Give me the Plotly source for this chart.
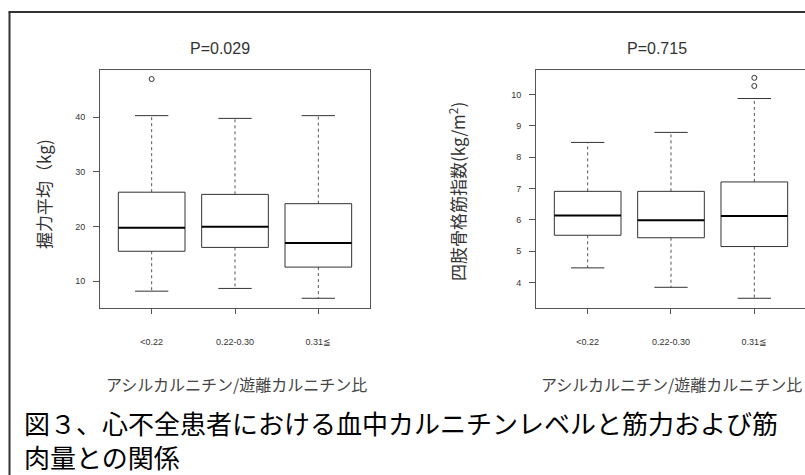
import plotly.graph_objects as go

# Ratio groups (acylcarnitine / free carnitine)
groups = ["<0.22", "0.22-0.30", "0.31≦"]

# Grip strength (kg): five-number summaries per group
grip_lower = [8.2, 8.7, 6.9]
grip_q1 = [15.5, 16.2, 12.6]
grip_median = [19.8, 20.0, 17.0]
grip_q3 = [26.3, 25.9, 24.2]
grip_upper = [40.3, 39.8, 40.3]
grip_outliers = [[47.0], [], []]
grip_ticks = [10, 20, 30, 40]

# Skeletal muscle index (kg/m2)
smi_lower = [4.47, 3.85, 3.50]
smi_q1 = [5.51, 5.43, 5.15]
smi_median = [6.14, 5.99, 6.12]
smi_q3 = [6.91, 6.91, 7.21]
smi_upper = [8.47, 8.79, 9.87]
smi_outliers = [[], [], [10.27, 10.53]]
smi_ticks = [4, 5, 6, 7, 8, 9, 10]

p_values = ["P=0.029", "P=0.715"]
x_title = "アシルカルニチン/遊離カルニチン比"
y_titles = ["握力平均（kg)", "四肢骨格筋指数(kg/m<sup>2</sup>)"]
caption = "図３、心不全患者における血中カルニチンレベルと筋力および筋<br>肉量との関係"

W, H = 805, 475
BOX_HALF = 0.4
CAP_HALF = 0.2
LATIN = "Liberation Sans, Arial, sans-serif"
CJK = "Noto Sans CJK JP, sans-serif"

fig = go.Figure()


def add_boxplot(lower, q1, med, q3, upper, outliers, xa, ya):
    bx, by, mx, my, wx, wy, cx, cy, ox, oy = ([] for _ in range(10))
    for i in range(len(groups)):
        c = i + 1
        bx += [c - BOX_HALF, c + BOX_HALF, c + BOX_HALF, c - BOX_HALF, c - BOX_HALF, None]
        by += [q1[i], q1[i], q3[i], q3[i], q1[i], None]
        mx += [c - BOX_HALF, c + BOX_HALF, None]
        my += [med[i], med[i], None]
        wx += [c, c, None, c, c, None]
        wy += [q3[i], upper[i], None, q1[i], lower[i], None]
        cx += [c - CAP_HALF, c + CAP_HALF, None, c - CAP_HALF, c + CAP_HALF, None]
        cy += [upper[i], upper[i], None, lower[i], lower[i], None]
        for v in outliers[i]:
            ox.append(c)
            oy.append(v)
    common = dict(xaxis=xa, yaxis=ya, hoverinfo="skip", showlegend=False)
    fig.add_trace(go.Scatter(x=wx, y=wy, mode="lines",
                             line=dict(color="#555", width=1, dash="3px,3px"), **common))
    fig.add_trace(go.Scatter(x=cx, y=cy, mode="lines",
                             line=dict(color="#333", width=1), **common))
    fig.add_trace(go.Scatter(x=bx, y=by, mode="lines",
                             line=dict(color="#333", width=1), **common))
    fig.add_trace(go.Scatter(x=mx, y=my, mode="lines",
                             line=dict(color="#000", width=2), **common))
    fig.add_trace(go.Scatter(x=ox, y=oy, mode="markers",
                             marker=dict(symbol="circle-open", size=5,
                                         color="#333", line=dict(width=1)), **common))


add_boxplot(grip_lower, grip_q1, grip_median, grip_q3, grip_upper, grip_outliers, "x", "y")
add_boxplot(smi_lower, smi_q1, smi_median, smi_q3, smi_upper, smi_outliers, "x2", "y2")

y_dom = [(H - 308) / H, (H - 70) / H]
tickfont = dict(family=LATIN, size=9, color="#333")
x_common = dict(tickvals=[1, 2, 3], ticktext=groups, ticks="outside", ticklen=5,
                tickcolor="#555", showgrid=False, zeroline=False, showline=True,
                linecolor="#555", linewidth=1, tickfont=tickfont,
                ticklabelstandoff=20)
y_common = dict(ticks="outside", ticklen=6, tickcolor="#555", showgrid=False,
                zeroline=False, showline=True, linecolor="#555", linewidth=1,
                tickfont=tickfont, ticklabelstandoff=6)

fig.update_layout(
    width=W, height=H,
    margin=dict(l=0, r=0, t=0, b=0),
    paper_bgcolor="white", plot_bgcolor="white",
    xaxis=dict(domain=[100 / W, 370 / W], range=[0.38, 3.62], mirror=True,
               anchor="y", **x_common),
    yaxis=dict(domain=y_dom, range=[5.12, 48.65], tickvals=grip_ticks, mirror=True,
               anchor="x", **y_common),
    xaxis2=dict(domain=[536 / W, 1.0], range=[0.38, 0.38 + 269 / 83.33], mirror=True,
                anchor="y2", **x_common),
    yaxis2=dict(domain=y_dom, range=[3.19, 10.78], tickvals=smi_ticks, mirror=False,
                anchor="x2", **y_common),
)


def px(x, y):
    return x / W, 1 - y / H


ann = []
for (cx, cy), txt in zip([(220, 48), (657, 48)], p_values):
    xp, yp = px(cx, cy)
    ann.append(dict(x=xp, y=yp, xref="paper", yref="paper", text=txt, showarrow=False,
                    font=dict(family=LATIN, size=16, color="#333"),
                    xanchor="center", yanchor="middle"))
for (cx, cy), txt in zip([(43, 194), (457, 192)], y_titles):
    xp, yp = px(cx, cy)
    ann.append(dict(x=xp, y=yp, xref="paper", yref="paper", text=txt, showarrow=False,
                    textangle=-90, font=dict(family=CJK, size=17, color="#333"),
                    xanchor="center", yanchor="middle"))
for cx in (236, 671):
    xp, yp = px(cx, 384)
    ann.append(dict(x=xp, y=yp, xref="paper", yref="paper", text=x_title, showarrow=False,
                    font=dict(family=CJK, size=16, color="#444"),
                    xanchor="center", yanchor="middle"))
xp, yp = px(22, 439)
ann.append(dict(x=xp, y=yp, xref="paper", yref="paper", text=caption, showarrow=False,
                align="left", font=dict(family=CJK, size=26, color="#000"),
                xanchor="left", yanchor="middle"))
fig.update_layout(annotations=ann)

# Outer frame: left and top edges
fig.update_layout(shapes=[
    dict(type="line", xref="paper", yref="paper", x0=9.5 / W, x1=9.5 / W,
         y0=0, y1=1 - 12 / H, line=dict(color="#333", width=2)),
    dict(type="line", xref="paper", yref="paper", x0=8.5 / W, x1=1,
         y0=1 - 12 / H, y1=1 - 12 / H, line=dict(color="#333", width=2)),
])

fig.write_html("out.html")
